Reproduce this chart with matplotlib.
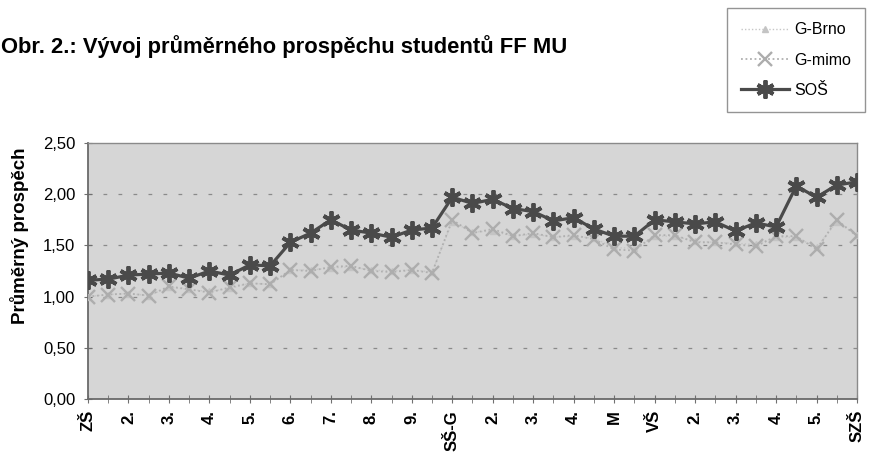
import matplotlib
matplotlib.use("Agg")
import matplotlib.pyplot as plt
from matplotlib.lines import Line2D

plt.rcParams['font.family'] = ['Liberation Sans', 'DejaVu Sans']

# ---- data ----
tick_labels = ["ZŠ", "2.", "3.", "4.", "5.", "6.", "7.", "8.", "9.", "SŠ-G",
               "2.", "3.", "4.", "M", "VŠ", "2.", "3.", "4.", "5.", "SZŠ"]

sos = [1.16, 1.17, 1.21, 1.22, 1.23, 1.18, 1.25, 1.21, 1.31, 1.30,
       1.53, 1.62, 1.75, 1.65, 1.62, 1.58, 1.65, 1.67, 1.97, 1.91,
       1.95, 1.86, 1.83, 1.74, 1.77, 1.66, 1.59, 1.59, 1.75, 1.73,
       1.71, 1.73, 1.64, 1.72, 1.68, 2.08, 1.97, 2.09, 2.12]

g_mimo = [1.00, 1.02, 1.03, 1.01, 1.10, 1.07, 1.04, 1.09, 1.13, 1.12,
          1.26, 1.25, 1.29, 1.30, 1.25, 1.24, 1.26, 1.23, 1.75, 1.62,
          1.66, 1.59, 1.62, 1.58, 1.60, 1.56, 1.46, 1.45, 1.60, 1.60,
          1.53, 1.53, 1.51, 1.49, 1.59, 1.59, 1.46, 1.75, 1.59]

g_brno = [1.00, 1.02, 1.03, 1.01, 1.09, 1.07, 1.05, 1.08, 1.13, 1.12,
          1.26, 1.26, 1.28, 1.29, 1.26, 1.25, 1.26, 1.24, 1.73, 1.63,
          1.64, 1.59, 1.61, 1.58, 1.59, 1.57, 1.48, 1.47, 1.59, 1.59,
          1.54, 1.53, 1.52, 1.51, 1.58, 1.58, 1.48, 1.73, 1.60]

y_ticks = [0.0, 0.5, 1.0, 1.5, 2.0, 2.5]

# ---- figure ----
fig = plt.figure(figsize=(8.7, 4.55), dpi=100)
ax = fig.add_axes([88/870, 1-399/455, (857-88)/870, (399-143)/455])
ax.set_facecolor('#d6d6d6')

x = list(range(len(sos)))

brno_style = dict(color='#c6c6c6', linestyle=(0, (1, 1.5)), linewidth=1.0,
                  marker='^', markersize=5, markerfacecolor='#c4c4c4',
                  markeredgecolor='#c4c4c4')
mimo_style = dict(color='#b0b0b0', linestyle=(0, (1, 1.5)), linewidth=1.3,
                  marker='x', markersize=10, markeredgewidth=1.7,
                  markeredgecolor='#adadad')
sos_style = dict(color='#4a4a4a', linewidth=2.3, marker=(6, 2, 0), markersize=13,
                 markeredgewidth=2.8, markeredgecolor='#4a4a4a')

ax.plot(x, g_brno, zorder=3, **brno_style)
ax.plot(x, g_mimo, zorder=4, **mimo_style)
ax.plot(x, sos, zorder=5, **sos_style)

ax.set_xlim(0, len(sos) - 1)
ax.set_ylim(0, 2.5)
ax.set_yticks(y_ticks)
ax.set_yticklabels([f"{v:.2f}".replace('.', ',') for v in y_ticks], fontsize=12)

ax.set_xticks(x, minor=True)
ax.set_xticks(x[::2])
ax.set_xticklabels(tick_labels, rotation=90, fontsize=12, fontweight='bold')
ax.tick_params(axis='x', which='both', direction='inout', length=6, color='#707070')
ax.tick_params(axis='y', direction='inout', length=6, color='#707070', pad=6)
ax.tick_params(axis='x', which='major', pad=5)

for v in y_ticks[1:-1]:
    ax.axhline(v, color='#8a8a8a', linestyle=(0, (3, 9)), linewidth=0.9, zorder=1)

for s in ['left', 'bottom']:
    ax.spines[s].set_color('#6a6a6a')
    ax.spines[s].set_linewidth(1.3)
for s in ['right', 'top']:
    ax.spines[s].set_color('#8a8a8a')
    ax.spines[s].set_linewidth(1.0)

fig.text(20/870, 1-236/455, "Průměrný prospěch", rotation=90, fontsize=13.5,
         fontweight='bold', ha='center', va='center')

fig.text(1/870, 1-47/455, "Obr. 2.: Vývoj průměrného prospěchu studentů FF MU",
         fontsize=15.8, fontweight='bold', ha='left', va='center')

# legend
handles = [Line2D([], [], **brno_style),
           Line2D([], [], **mimo_style),
           Line2D([], [], **sos_style)]
leg = fig.legend(handles, ["G-Brno", "G-mimo", "SOŠ"], loc='upper left',
                 bbox_to_anchor=(727/870, 1-8/455), fontsize=11.5, frameon=True,
                 fancybox=False, borderpad=0.9, labelspacing=0.95, handlelength=3.0,
                 handletextpad=0.3, borderaxespad=0)
leg.get_frame().set_edgecolor('#7a7a7a')
leg.get_frame().set_linewidth(1.0)

fig.savefig("out.png", dpi=100)
